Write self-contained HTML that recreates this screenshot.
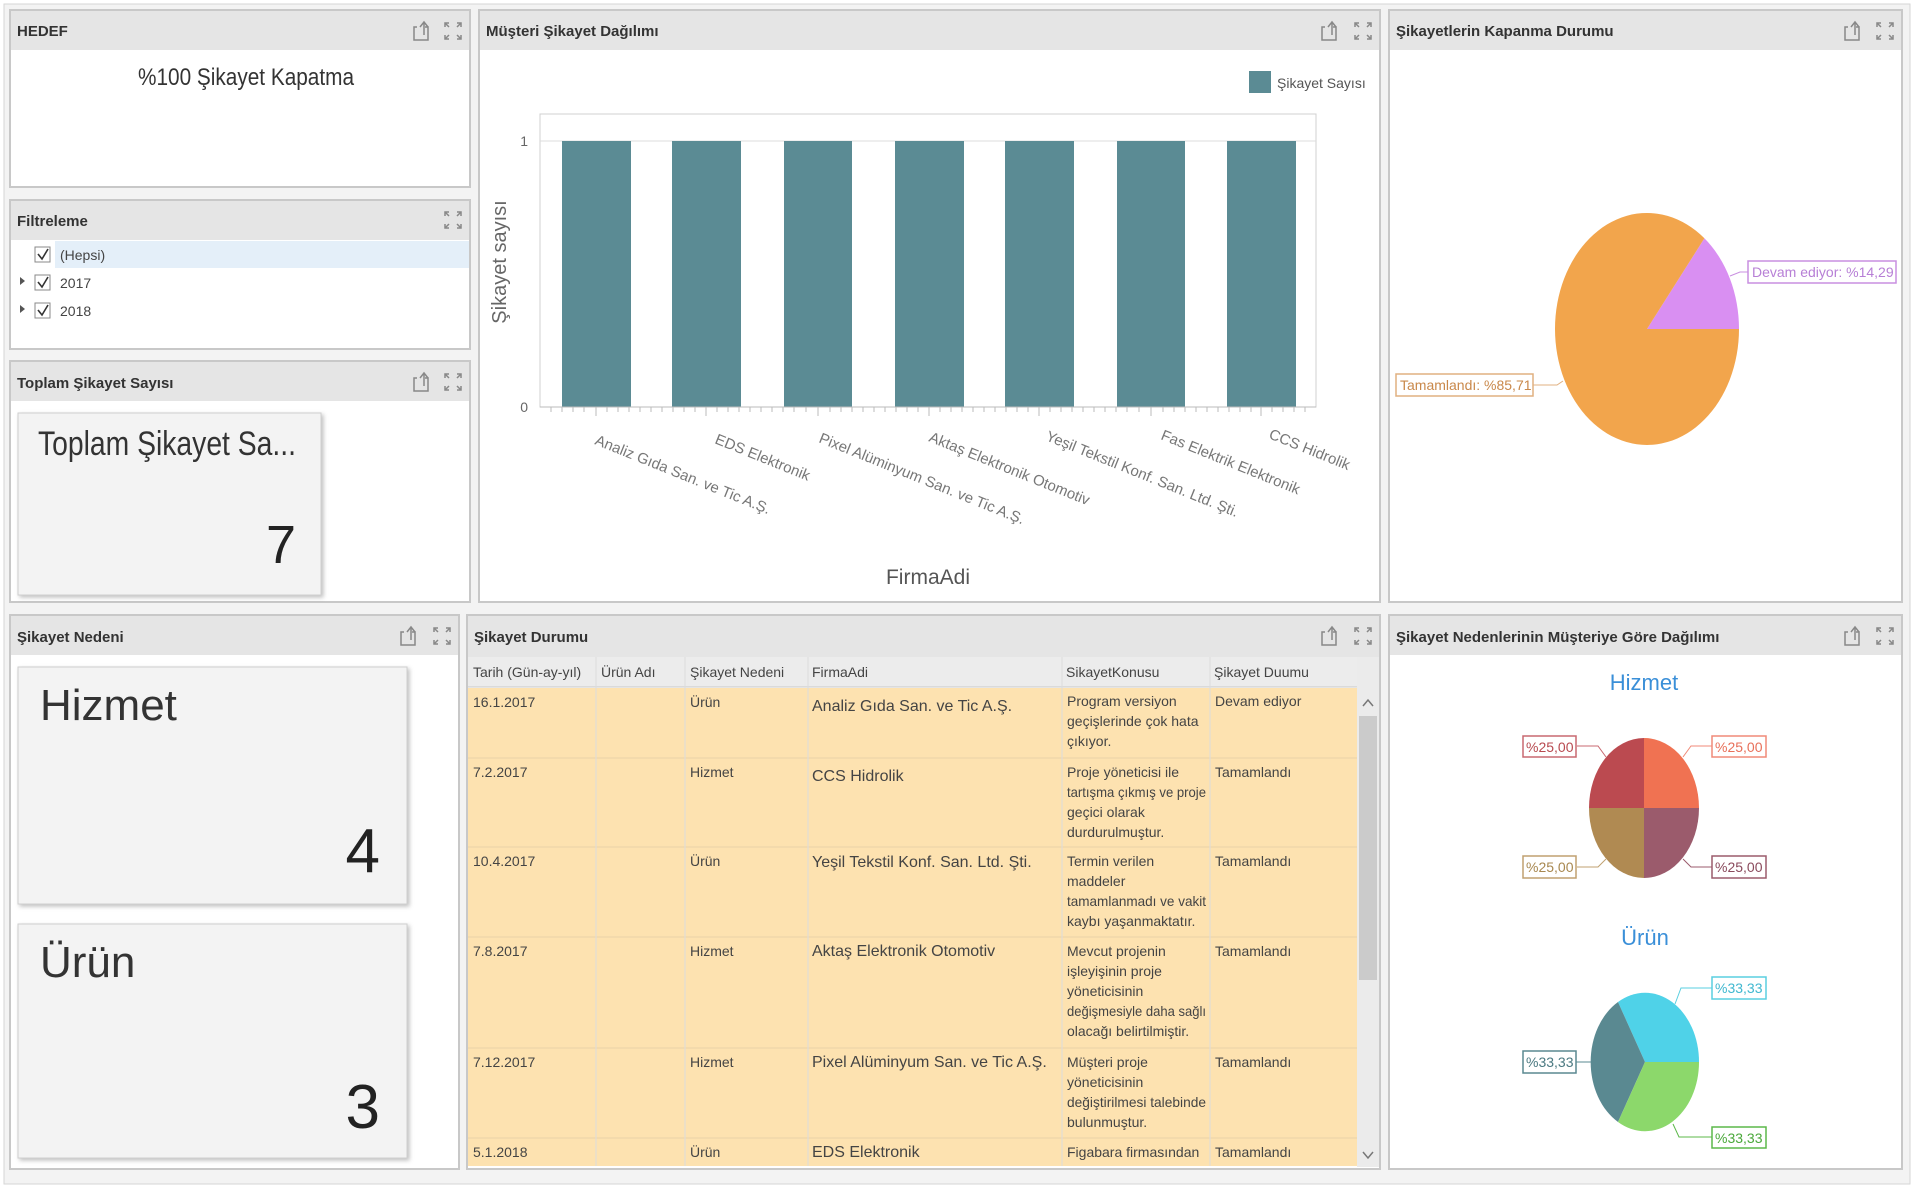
<!DOCTYPE html>
<html><head><meta charset="utf-8"><style>
html,body{margin:0;padding:0;background:#fff}
svg{display:block}
text{font-family:"Liberation Sans",sans-serif}
</style></head><body>
<svg width="1920" height="1190" viewBox="0 0 1920 1190" xmlns="http://www.w3.org/2000/svg">
<defs>
<g id="exp"><path d="M-7,-4 h-3 v13 h14 v-13 h-3" fill="none" stroke="#888" stroke-width="1.5"/><path d="M0,4 v-12 M-4,-4 l4,-5 l4,5" fill="none" stroke="#888" stroke-width="1.5"/></g>
<g id="max" fill="none" stroke="#888" stroke-width="1.5"><path d="M-8,-4 v-4 h4 M4,-8 h4 v4 M8,4 v4 h-4 M-4,8 h-4 v-4"/><path d="M-8,-8 l4,4 M8,-8 l-4,4 M8,8 l-4,-4 M-8,8 l4,-4"/></g>
<filter id="sh" x="-5%" y="-5%" width="110%" height="110%"><feDropShadow dx="2" dy="2" stdDeviation="2" flood-color="#000" flood-opacity="0.25"/></filter>
</defs>
<rect x="0" y="0" width="1920" height="1190" fill="#fff"/>
<rect x="4" y="4" width="1906" height="1180" fill="#f3f3f3" stroke="#d6d6d6"/>

<!-- HEDEF -->
<rect x="10" y="10" width="460" height="177" fill="#fff" stroke="#c8c8c8" stroke-width="2"/>
<rect x="11" y="11" width="458" height="39" fill="#e5e5e5"/>
<text x="17" y="36" font-size="15" font-weight="bold" fill="#333">HEDEF</text>
<use href="#exp" x="424" y="31"/><use href="#max" x="453" y="31"/>
<text x="246" y="85" font-size="24" fill="#333" text-anchor="middle" textLength="216" lengthAdjust="spacingAndGlyphs">%100 Şikayet Kapatma</text>

<!-- Filtreleme -->
<rect x="10" y="200" width="460" height="149" fill="#fff" stroke="#c8c8c8" stroke-width="2"/>
<rect x="11" y="201" width="458" height="39" fill="#e5e5e5"/>
<text x="17" y="226" font-size="15" font-weight="bold" fill="#333">Filtreleme</text>
<use href="#max" x="453" y="220"/>
<rect x="55" y="241" width="414" height="27" fill="#e4eff9"/>
<g font-size="14" fill="#444">
<rect x="35" y="247" width="15" height="15" fill="#fff" stroke="#888"/><path d="M38,254 l4,5 l6,-10" fill="none" stroke="#333" stroke-width="1.6"/><text x="60" y="260">(Hepsi)</text>
<path d="M20,277 l5,4 l-5,4z" fill="#555"/>
<rect x="35" y="275" width="15" height="15" fill="#fff" stroke="#888"/><path d="M38,282 l4,5 l6,-10" fill="none" stroke="#333" stroke-width="1.6"/><text x="60" y="288">2017</text>
<path d="M20,305 l5,4 l-5,4z" fill="#555"/>
<rect x="35" y="303" width="15" height="15" fill="#fff" stroke="#888"/><path d="M38,310 l4,5 l6,-10" fill="none" stroke="#333" stroke-width="1.6"/><text x="60" y="316">2018</text>
</g>

<!-- Toplam -->
<rect x="10" y="361" width="460" height="241" fill="#fff" stroke="#c8c8c8" stroke-width="2"/>
<rect x="11" y="362" width="458" height="39" fill="#e5e5e5"/>
<text x="17" y="388" font-size="15" font-weight="bold" fill="#333">Toplam Şikayet Sayısı</text>
<use href="#exp" x="424" y="382"/><use href="#max" x="453" y="382"/>
<rect x="18" y="413" width="303" height="182" fill="#f3f3f3" stroke="#cfcfcf" filter="url(#sh)"/>
<text x="38" y="455" font-size="34" fill="#333" textLength="258" lengthAdjust="spacingAndGlyphs">Toplam Şikayet Sa...</text>
<text x="296" y="563" font-size="54" fill="#222" text-anchor="end">7</text>

<!-- Bar chart -->
<rect x="479" y="10" width="901" height="592" fill="#fff" stroke="#c8c8c8" stroke-width="2"/>
<rect x="480" y="11" width="899" height="39" fill="#e5e5e5"/>
<text x="486" y="36" font-size="15" font-weight="bold" fill="#333">Müşteri Şikayet Dağılımı</text>
<use href="#exp" x="1332" y="31"/><use href="#max" x="1363" y="31"/>
<rect x="1249" y="71" width="22" height="22" fill="#5b8b94"/>
<text x="1277" y="88" font-size="14" fill="#555">Şikayet Sayısı</text>
<rect x="540" y="114" width="776" height="293" fill="#fff" stroke="#d0d0d0"/>
<line x1="540" y1="141" x2="1316" y2="141" stroke="#ddd"/>
<g fill="#5b8b94">
<rect x="562" y="141" width="69" height="266"/><rect x="672" y="141" width="69" height="266"/>
<rect x="784" y="141" width="68" height="266"/><rect x="895" y="141" width="69" height="266"/>
<rect x="1005" y="141" width="69" height="266"/><rect x="1117" y="141" width="68" height="266"/>
<rect x="1227" y="141" width="69" height="266"/>
</g>
<line x1="540" y1="407" x2="1316" y2="407" stroke="#bbb"/>
<g stroke="#bbb">
<path d="M551,407v5M562,407v5M573,407v5M584,407v5M596,407v9M607,407v5M618,407v5M629,407v5M640,407v5M651,407v5M662,407v5M673,407v5M684,407v5M706,407v9M695,407v5M717,407v5M728,407v5M739,407v5M750,407v5M761,407v5M772,407v5M783,407v5M794,407v5M818,407v9M806,407v5M830,407v5M841,407v5M852,407v5M863,407v5M874,407v5M885,407v5M896,407v5M907,407v5M929,407v9M918,407v5M940,407v5M951,407v5M962,407v5M973,407v5M984,407v5M995,407v5M1006,407v5M1017,407v5M1039,407v9M1028,407v5M1050,407v5M1061,407v5M1072,407v5M1083,407v5M1094,407v5M1105,407v5M1116,407v5M1127,407v5M1151,407v9M1139,407v5M1163,407v5M1174,407v5M1185,407v5M1196,407v5M1207,407v5M1218,407v5M1229,407v5M1240,407v5M1261,407v9M1251,407v5M1272,407v5M1283,407v5M1294,407v5M1305,407v5"/>
</g>
<text x="528" y="146" font-size="14" fill="#666" text-anchor="end">1</text>
<text x="528" y="412" font-size="14" fill="#666" text-anchor="end">0</text>
<text transform="translate(506,262) rotate(-90)" font-size="20" fill="#666" text-anchor="middle">Şikayet sayısı</text>
<g font-size="15" fill="#777">
<text transform="translate(594,444) rotate(22)">Analiz Gıda San. ve Tic  A.Ş.</text>
<text transform="translate(714,443) rotate(22)">EDS Elektronik</text>
<text transform="translate(818,442) rotate(22)">Pixel Alüminyum San. ve Tic  A.Ş.</text>
<text transform="translate(928,441) rotate(22)">Aktaş Elektronik Otomotiv</text>
<text transform="translate(1045,440) rotate(22)">Yeşil Tekstil Konf. San. Ltd. Şti.</text>
<text transform="translate(1160,439) rotate(22)">Fas Elektrik Elektronik</text>
<text transform="translate(1268,438) rotate(22)">CCS Hidrolik</text>
</g>
<text x="928" y="584" font-size="21" fill="#555" text-anchor="middle">FirmaAdi</text>

<!-- Pie 1 -->
<rect x="1389" y="10" width="513" height="592" fill="#fff" stroke="#c8c8c8" stroke-width="2"/>
<rect x="1390" y="11" width="511" height="39" fill="#e5e5e5"/>
<text x="1396" y="36" font-size="15" font-weight="bold" fill="#333">Şikayetlerin Kapanma Durumu</text>
<use href="#exp" x="1855" y="31"/><use href="#max" x="1885" y="31"/>
<path d="M1647,329 L1739,329 A92,116 0 0 0 1704.4,238.3 Z" fill="#d98ff2"/>
<path d="M1647,329 L1704.4,238.3 A92,116 0 1 0 1739,329 Z" fill="#f2a54c"/>
<path d="M1730,276 l10,-4 h8" fill="none" stroke="#c98fe0"/>
<rect x="1748" y="261" width="148" height="22" fill="#fff" stroke="#c98fe0" stroke-width="1.5"/>
<text x="1752" y="277" font-size="14" fill="#b77fd6">Devam ediyor: %14,29</text>
<path d="M1563,381 l-6,4 h-25" fill="none" stroke="#e0b080"/>
<rect x="1396" y="374" width="137" height="22" fill="#fff" stroke="#e0b080" stroke-width="1.5"/>
<text x="1400" y="390" font-size="14" fill="#c9884a">Tamamlandı: %85,71</text>

<!-- Şikayet Nedeni -->
<rect x="10" y="615" width="449" height="554" fill="#fff" stroke="#c8c8c8" stroke-width="2"/>
<rect x="11" y="616" width="447" height="39" fill="#e5e5e5"/>
<text x="17" y="642" font-size="15" font-weight="bold" fill="#333">Şikayet Nedeni</text>
<use href="#exp" x="411" y="636"/><use href="#max" x="442" y="636"/>
<rect x="18" y="667" width="389" height="237" fill="#f3f3f3" stroke="#cfcfcf" filter="url(#sh)"/>
<text x="40" y="720" font-size="44" fill="#333">Hizmet</text>
<text x="380" y="872" font-size="62" fill="#222" text-anchor="end">4</text>
<rect x="18" y="924" width="389" height="234" fill="#f3f3f3" stroke="#cfcfcf" filter="url(#sh)"/>
<text x="40" y="977" font-size="44" fill="#333">Ürün</text>
<text x="380" y="1128" font-size="62" fill="#222" text-anchor="end">3</text>

<!-- Şikayet Durumu table -->
<rect x="467" y="615" width="913" height="554" fill="#fff" stroke="#c8c8c8" stroke-width="2"/>
<rect x="468" y="616" width="911" height="41" fill="#e5e5e5"/>
<text x="474" y="642" font-size="15" font-weight="bold" fill="#333">Şikayet Durumu</text>
<use href="#exp" x="1332" y="636"/><use href="#max" x="1363" y="636"/>
<rect x="468" y="657" width="889" height="30" fill="#ececec"/>
<line x1="468" y1="687" x2="1357" y2="687" stroke="#c8c8c8"/>
<g font-size="14" fill="#444">
<text x="473" y="677">Tarih (Gün-ay-yıl)</text><text x="601" y="677">Ürün Adı</text><text x="690" y="677">Şikayet Nedeni</text><text x="812" y="677">FirmaAdi</text><text x="1066" y="677">SikayetKonusu</text><text x="1214" y="677">Şikayet Duumu</text>
</g>
<rect x="468" y="688" width="889" height="478" fill="#fde2b0"/>
<g stroke="#e9d3a8"><path d="M468,758H1357M468,847H1357M468,937H1357M468,1048H1357M468,1138H1357"/></g>
<g stroke="#dcdcdc"><path d="M596,657V1166M685,657V1166M808,657V1166M1062,657V1166M1210,657V1166"/></g>
<g font-size="14" fill="#444">
<text x="473" y="707">16.1.2017</text><text x="690" y="707">Ürün</text><text x="812" y="711" font-size="16">Analiz Gıda San. ve Tic  A.Ş.</text>
<text x="1067" y="706">Program versiyon</text><text x="1067" y="726">geçişlerinde çok hata</text><text x="1067" y="746">çıkıyor.</text><text x="1215" y="706">Devam ediyor</text>
<text x="473" y="777">7.2.2017</text><text x="690" y="777">Hizmet</text><text x="812" y="781" font-size="16">CCS Hidrolik</text>
<text x="1067" y="777">Proje yöneticisi ile</text><text x="1067" y="797" textLength="139" lengthAdjust="spacingAndGlyphs">tartışma çıkmış ve proje</text><text x="1067" y="817">geçici olarak</text><text x="1067" y="837">durdurulmuştur.</text><text x="1215" y="777">Tamamlandı</text>
<text x="473" y="866">10.4.2017</text><text x="690" y="866">Ürün</text><text x="812" y="867" font-size="16">Yeşil Tekstil Konf. San. Ltd. Şti.</text>
<text x="1067" y="866">Termin verilen</text><text x="1067" y="886">maddeler</text><text x="1067" y="906" textLength="139" lengthAdjust="spacingAndGlyphs">tamamlanmadı ve vakit</text><text x="1067" y="926">kaybı yaşanmaktatır.</text><text x="1215" y="866">Tamamlandı</text>
<text x="473" y="956">7.8.2017</text><text x="690" y="956">Hizmet</text><text x="812" y="956" font-size="16">Aktaş Elektronik Otomotiv</text>
<text x="1067" y="956">Mevcut projenin</text><text x="1067" y="976">işleyişinin proje</text><text x="1067" y="996">yöneticisinin</text><text x="1067" y="1016" textLength="139" lengthAdjust="spacingAndGlyphs">değişmesiyle daha sağlı</text><text x="1067" y="1036">olacağı belirtilmiştir.</text><text x="1215" y="956">Tamamlandı</text>
<text x="473" y="1067">7.12.2017</text><text x="690" y="1067">Hizmet</text><text x="812" y="1067" font-size="16">Pixel Alüminyum San. ve Tic  A.Ş.</text>
<text x="1067" y="1067">Müşteri proje</text><text x="1067" y="1087">yöneticisinin</text><text x="1067" y="1107" textLength="139" lengthAdjust="spacingAndGlyphs">değiştirilmesi talebinde</text><text x="1067" y="1127">bulunmuştur.</text><text x="1215" y="1067">Tamamlandı</text>
<text x="473" y="1157">5.1.2018</text><text x="690" y="1157">Ürün</text><text x="812" y="1157" font-size="16">EDS Elektronik</text>
<text x="1067" y="1157">Figabara firmasından</text><text x="1215" y="1157">Tamamlandı</text>
</g>
<rect x="1357" y="657" width="22" height="510" fill="#ebebeb"/>
<rect x="1359" y="716" width="18" height="264" fill="#cbcbcb"/>
<path d="M1363,706 l5,-6 l5,6" fill="none" stroke="#777" stroke-width="1.5"/>
<path d="M1363,1152 l5,6 l5,-6" fill="none" stroke="#777" stroke-width="1.5"/>

<!-- Right bottom pies -->
<rect x="1389" y="615" width="513" height="554" fill="#fff" stroke="#c8c8c8" stroke-width="2"/>
<rect x="1390" y="616" width="511" height="39" fill="#e5e5e5"/>
<text x="1396" y="642" font-size="15" font-weight="bold" fill="#333">Şikayet Nedenlerinin Müşteriye Göre Dağılımı</text>
<use href="#exp" x="1855" y="636"/><use href="#max" x="1885" y="636"/>
<text x="1644" y="690" font-size="22" fill="#3a8fd8" text-anchor="middle">Hizmet</text>
<path d="M1644,808 L1644,738 A55,70 0 0 1 1699,808 Z" fill="#f07252"/>
<path d="M1644,808 L1699,808 A55,70 0 0 1 1644,878 Z" fill="#9b5b6c"/>
<path d="M1644,808 L1644,878 A55,70 0 0 1 1589,808 Z" fill="#b08a52"/>
<path d="M1644,808 L1589,808 A55,70 0 0 1 1644,738 Z" fill="#bb4a50"/>
<g font-size="14">
<path d="M1606,757 l-8,-11 h-21" fill="none" stroke="#c86870"/><rect x="1523" y="736" width="53" height="21" fill="#fff" stroke="#c86870" stroke-width="1.5"/><text x="1526" y="752" fill="#b84a50">%25,00</text>
<path d="M1683,757 l8,-11 h21" fill="none" stroke="#f08a78"/><rect x="1712" y="736" width="54" height="21" fill="#fff" stroke="#f08a78" stroke-width="1.5"/><text x="1715" y="752" fill="#e8705a">%25,00</text>
<path d="M1606,859 l-8,8 h-21" fill="none" stroke="#c0a070"/><rect x="1523" y="856" width="53" height="22" fill="#fff" stroke="#c0a070" stroke-width="1.5"/><text x="1526" y="872" fill="#a88850">%25,00</text>
<path d="M1683,859 l8,8 h21" fill="none" stroke="#9b5b6c"/><rect x="1712" y="856" width="54" height="22" fill="#fff" stroke="#9b5b6c" stroke-width="1.5"/><text x="1715" y="872" fill="#8a4a5c">%25,00</text>
</g>
<text x="1645" y="945" font-size="22" fill="#3a8fd8" text-anchor="middle">Ürün</text>
<path d="M1645,1062 L1699,1062 A54,69 0 0 0 1618,1002 Z" fill="#4fd2e8"/>
<path d="M1645,1062 L1618,1002 A54,69 0 0 0 1618,1122 Z" fill="#5a8991"/>
<path d="M1645,1062 L1618,1122 A54,69 0 0 0 1699,1062 Z" fill="#8cd86b"/>
<g font-size="14">
<path d="M1675,1004 l6,-16 h31" fill="none" stroke="#5acfe0"/><rect x="1712" y="977" width="54" height="22" fill="#fff" stroke="#5acfe0" stroke-width="1.5"/><text x="1715" y="993" fill="#40b8d0">%33,33</text>
<path d="M1591,1062 h-15" fill="none" stroke="#5a8991"/><rect x="1523" y="1051" width="53" height="22" fill="#fff" stroke="#5a8991" stroke-width="1.5"/><text x="1526" y="1067" fill="#4a7981">%33,33</text>
<path d="M1673,1124 l6,13 h33" fill="none" stroke="#5cb84a"/><rect x="1712" y="1127" width="54" height="21" fill="#fff" stroke="#5cb84a" stroke-width="1.5"/><text x="1715" y="1143" fill="#4aa83a">%33,33</text>
</g>
</svg>
</body></html>
